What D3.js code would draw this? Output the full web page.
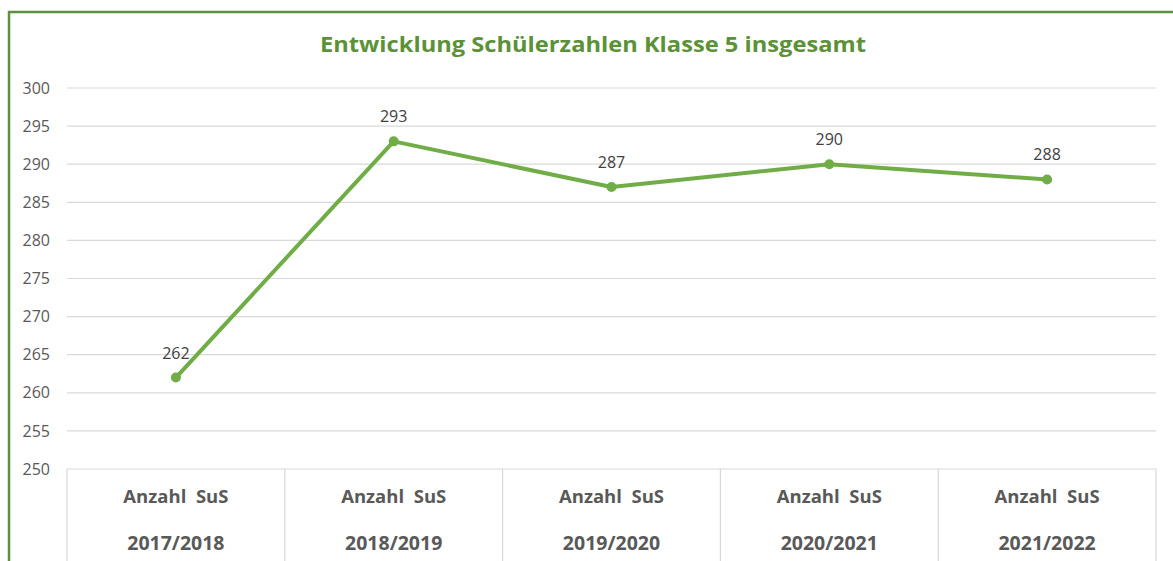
<!DOCTYPE html>
<html><head><meta charset="utf-8">
<script src="https://cdn.jsdelivr.net/npm/d3@7"></script>
<style>body{margin:0;background:#fff}svg{display:block}</style>
</head><body>
<script>
const title = "Entwicklung Schülerzahlen Klasse 5 insgesamt";
const categoryLine1 = ["Anzahl  SuS","Anzahl  SuS","Anzahl  SuS","Anzahl  SuS","Anzahl  SuS"];
const categoryLine2 = ["2017/2018","2018/2019","2019/2020","2020/2021","2021/2022"];
const values = [262, 293, 287, 290, 288];
const yTicks = [250,255,260,265,270,275,280,285,290,295,300];

const W = 1173, H = 561;
const font = "'Open Sans', Lato, sans-serif";
const svg = d3.select("body").append("svg").attr("width", W).attr("height", H);

// chart frame
svg.append("path").attr("d", `M9,${H} L9,12 L${W},12`).attr("fill","none")
  .attr("stroke","#5e8f3f").attr("stroke-width",2.5);

svg.append("text").attr("x", 593).attr("y", 52).attr("text-anchor","middle")
  .attr("font-family", font).attr("font-weight","bold").attr("font-size",21)
  .attr("textLength",546).attr("lengthAdjust","spacingAndGlyphs")
  .attr("fill","#5b9237").text(title);

const x = d3.scaleBand().domain(categoryLine2).range([67, 1156]);
const y = d3.scaleLinear().domain([250,300]).range([469, 88]);

// gridlines
svg.append("g").selectAll("line").data(yTicks.filter(t=>t>250)).join("line")
  .attr("x1",67).attr("x2",1156).attr("y1",d=>y(d)).attr("y2",d=>y(d))
  .attr("stroke","#d9d9d9").attr("stroke-width",1.2);

// y axis labels
const yAxis = d3.axisLeft(y).tickValues(yTicks).tickSize(0).tickPadding(0);
const ga = svg.append("g").attr("transform","translate(50,0)").call(yAxis);
ga.select(".domain").remove();
ga.selectAll("text").attr("font-family", font).attr("font-size",16).attr("fill","#595959");

// category boxes
svg.append("line").attr("x1",67).attr("x2",1156).attr("y1",y(250)).attr("y2",y(250))
  .attr("stroke","#d9d9d9").attr("stroke-width",1.2);
const edges = categoryLine2.map(c=>x(c)).concat([x.range()[1]]);
svg.append("g").selectAll("line").data(edges).join("line")
  .attr("x1",d=>d).attr("x2",d=>d).attr("y1",y(250)).attr("y2",H)
  .attr("stroke","#d9d9d9").attr("stroke-width",1.2);

const cg = svg.append("g");
cg.selectAll("text.l1").data(categoryLine1).join("text").attr("class","l1")
  .attr("x",(d,i)=>x(categoryLine2[i])+x.bandwidth()/2).attr("y",503)
  .attr("text-anchor","middle").attr("font-family",font).attr("font-weight","bold")
  .attr("font-size",18.5).attr("fill","#595959").style("white-space","pre").text(d=>d);
cg.selectAll("text.l2").data(categoryLine2).join("text").attr("class","l2")
  .attr("x",d=>x(d)+x.bandwidth()/2).attr("y",550)
  .attr("text-anchor","middle").attr("font-family",font).attr("font-weight","bold")
  .attr("font-size",19.5).attr("fill","#595959").text(d=>d);

// line
const pts = values.map((v,i)=>[x(categoryLine2[i])+x.bandwidth()/2, y(v)]);
svg.append("path").attr("d", d3.line()(pts)).attr("fill","none")
  .attr("stroke","#70ad47").attr("stroke-width",4).attr("stroke-linejoin","round");
svg.append("g").selectAll("circle").data(pts).join("circle")
  .attr("cx",d=>d[0]).attr("cy",d=>d[1]).attr("r",5).attr("fill","#70ad47");
svg.append("g").selectAll("text").data(values).join("text")
  .attr("x",(d,i)=>pts[i][0]).attr("y",(d,i)=>pts[i][1]-19)
  .attr("text-anchor","middle").attr("font-family",font).attr("font-size",16)
  .attr("fill","#404040").text(d=>d);
</script>
</body></html>
